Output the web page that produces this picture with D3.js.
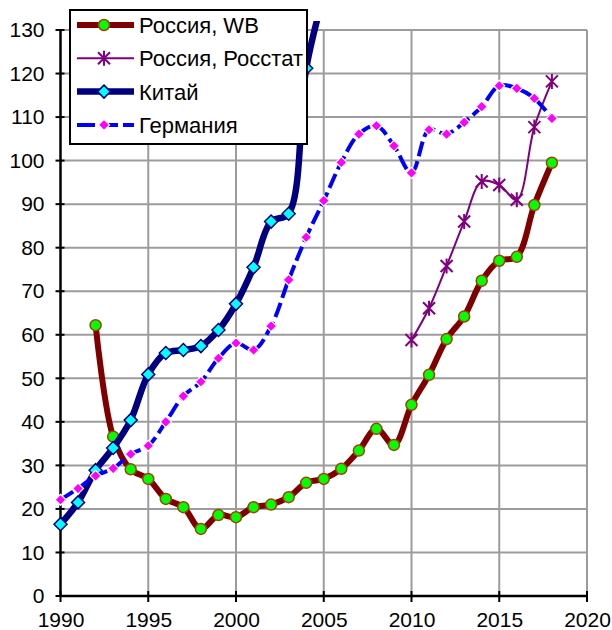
<!DOCTYPE html>
<html>
<head>
<meta charset="utf-8">
<script src="https://cdn.jsdelivr.net/npm/d3@7"></script>
<style>
  body { margin: 0; background: #fff; }
  text { font-family: "Liberation Sans", Arial, sans-serif; }
</style>
</head>
<body>
<div id="chart"></div>
<script>
// Data
const xTicks = [1990, 1995, 2000, 2005, 2010, 2015, 2020];
const yTicks = d3.range(0, 131, 10);

const wbYears = d3.range(1992, 2019);
const wbValues = [62.2, 36.6, 29.1, 26.9, 22.3, 20.4, 15.4, 18.6, 18.1, 20.4, 21.0, 22.7, 26.0, 26.9,
  29.2, 33.4, 38.4, 34.7, 43.9, 50.8, 59.0, 64.2, 72.4, 77.0, 77.9, 89.8, 99.5];

const rosstatYears = d3.range(2010, 2019);
const rosstatValues = [58.8, 66.1, 75.8, 86.0, 95.2, 94.4, 91.0, 107.7, 118.2];

const chinaYears = d3.range(1990, 2006);
const chinaValues = [16.5, 21.5, 28.9, 34.0, 40.4, 50.9, 55.8, 56.5, 57.4, 61.1, 67.1, 75.5, 86.0, 87.8, 121.2, 138];

const germanyYears = d3.range(1990, 2019);
const germanyValues = [22.1, 24.7, 27.6, 29.3, 32.6, 34.5, 40.0, 45.9, 49.2, 54.6, 58.1, 56.5, 62.0, 72.6,
  82.4, 90.8, 99.6, 106.1, 108.0, 103.4, 97.2, 107.1, 106.1, 108.8, 112.4, 117.2, 116.6, 114.3, 109.7];

const seriesNames = ['Россия, WB', 'Россия, Росстат', 'Китай', 'Германия'];

// Layout
let svgWidth = 612;
let svgHeight = 630;
let plot = { left: 60.5, right: 587, top: 30, bottom: 596 };

let svg = d3.select('#chart')
  .append('svg')
  .attr('width', svgWidth)
  .attr('height', svgHeight)
  .style('display', 'block');

let x = d3.scaleLinear().domain([1990, 2020]).range([plot.left, plot.right]);
let y = d3.scaleLinear().domain([0, 130]).range([plot.bottom, plot.top]);

// Grid
let grid = svg.append('g');
grid.selectAll('.hg').data(yTicks.filter(d => d > 0)).enter().append('line')
  .attr('x1', plot.left).attr('x2', plot.right)
  .attr('y1', d => y(d)).attr('y2', d => y(d))
  .style('stroke', '#9c9c9c').style('stroke-width', 2);
grid.selectAll('.vg').data(xTicks.filter(d => d > 1990)).enter().append('line')
  .attr('x1', d => x(d)).attr('x2', d => x(d))
  .attr('y1', plot.top).attr('y2', plot.bottom)
  .style('stroke', '#9c9c9c').style('stroke-width', 2);

// Axes (cross tick marks)
let yAxis = svg.append('g')
  .attr('transform', 'translate(' + plot.left + ',0)')
  .call(d3.axisLeft(y).tickValues(yTicks).tickSize(0).tickPadding(16));
yAxis.select('.domain').remove();
yAxis.selectAll('text').style('font-size', '21px').style('fill', '#000');

let xAxis = svg.append('g')
  .attr('transform', 'translate(0,' + plot.bottom + ')')
  .call(d3.axisBottom(x).tickValues(xTicks).tickFormat(d3.format('d')).tickSize(0).tickPadding(16));
xAxis.select('.domain').remove();
xAxis.selectAll('text').style('font-size', '21px').style('fill', '#000');

svg.selectAll('.yt').data(yTicks).enter().append('line')
  .attr('x1', plot.left - 5).attr('x2', plot.left + 4)
  .attr('y1', d => y(d)).attr('y2', d => y(d))
  .style('stroke', '#000').style('stroke-width', 2);
svg.selectAll('.xt').data(xTicks).enter().append('line')
  .attr('x1', d => x(d)).attr('x2', d => x(d))
  .attr('y1', plot.bottom - 5).attr('y2', plot.bottom + 6)
  .style('stroke', '#000').style('stroke-width', 2);
svg.append('line')
  .attr('x1', plot.left).attr('x2', plot.left)
  .attr('y1', plot.top).attr('y2', plot.bottom)
  .style('stroke', '#000').style('stroke-width', 2.5);
svg.append('line')
  .attr('x1', plot.left).attr('x2', plot.right)
  .attr('y1', plot.bottom).attr('y2', plot.bottom)
  .style('stroke', '#000').style('stroke-width', 2.5);

// Clip for lines going off the top
svg.append('clipPath').attr('id', 'clip')
  .append('rect')
  .attr('x', plot.left - 10).attr('y', plot.top - 9)
  .attr('width', plot.right - plot.left + 20).attr('height', plot.bottom - plot.top + 20);

let lineGen = d3.line()
  .x(d => x(d[0]))
  .y(d => y(d[1]))
  .curve(d3.curveCatmullRom.alpha(0.5));

let diamond = s => 'M0,' + (-s) + 'L' + s + ',0L0,' + s + 'L' + (-s) + ',0Z';
let star = 'M-6,-6L6,6M-6,6L6,-6M0,-7.5L0,7.5';

let styles = [
  { line: '#800000', width: 6, dash: null, marker: 'circle', fill: '#00ff00', mstroke: '#a0400a', mwidth: 1.5 },
  { line: '#800080', width: 2, dash: null, marker: 'star', fill: 'none', mstroke: '#800080', mwidth: 2 },
  { line: '#000080', width: 6.5, dash: null, marker: 'diamond', fill: '#00ffff', mstroke: '#000080', mwidth: 1.5 },
  { line: '#0000ff', width: 4, dash: '15,5', marker: 'mdiamond', fill: '#ff00ff', mstroke: '#ffffff', mwidth: 1.2 }
];

let allData = [
  d3.zip(wbYears, wbValues),
  d3.zip(rosstatYears, rosstatValues),
  d3.zip(chinaYears, chinaValues),
  d3.zip(germanyYears, germanyValues)
];

function drawMarker(sel, st) {
  if (st.marker === 'circle') {
    sel.append('circle').attr('r', 5.5)
      .style('fill', st.fill).style('stroke', st.mstroke).style('stroke-width', st.mwidth);
  } else if (st.marker === 'star') {
    sel.append('path').attr('d', star)
      .style('fill', 'none').style('stroke', st.mstroke).style('stroke-width', st.mwidth);
  } else if (st.marker === 'diamond') {
    sel.append('path').attr('d', diamond(6.5))
      .style('fill', st.fill).style('stroke', st.mstroke).style('stroke-width', st.mwidth);
  } else {
    sel.append('path').attr('d', diamond(5.5))
      .style('fill', st.fill).style('stroke', st.mstroke).style('stroke-width', st.mwidth);
  }
}

let series = svg.append('g').attr('clip-path', 'url(#clip)');
allData.forEach((data, i) => {
  let st = styles[i];
  series.append('path')
    .datum(data)
    .attr('d', lineGen)
    .style('fill', 'none')
    .style('stroke', st.line)
    .style('stroke-width', st.width)
    .style('stroke-linejoin', 'round')
    .style('stroke-dasharray', st.dash);
  series.selectAll('.m' + i).data(data.filter(d => d[1] <= 130)).enter().append('g')
    .attr('transform', d => 'translate(' + x(d[0]) + ',' + y(d[1]) + ')')
    .each(function () { drawMarker(d3.select(this), st); });
});

// Legend
let legend = svg.append('g');
legend.append('rect')
  .attr('x', 70).attr('y', 10).attr('width', 237).attr('height', 134)
  .style('fill', '#fff').style('stroke', '#000').style('stroke-width', 2);
seriesNames.forEach((name, i) => {
  let st = styles[i];
  let ly = 25 + i * 33.3;
  legend.append('line')
    .attr('x1', 77).attr('x2', 134).attr('y1', ly).attr('y2', ly)
    .style('stroke', st.line).style('stroke-width', st.width)
    .style('stroke-dasharray', st.dash ? '18,5' : null);
  let m = legend.append('g').attr('transform', 'translate(104,' + ly + ')');
  drawMarker(m, st);
  legend.append('text')
    .attr('x', 139).attr('y', ly + 8)
    .style('font-size', '22px')
    .text(name);
});
</script>
</body>
</html>
